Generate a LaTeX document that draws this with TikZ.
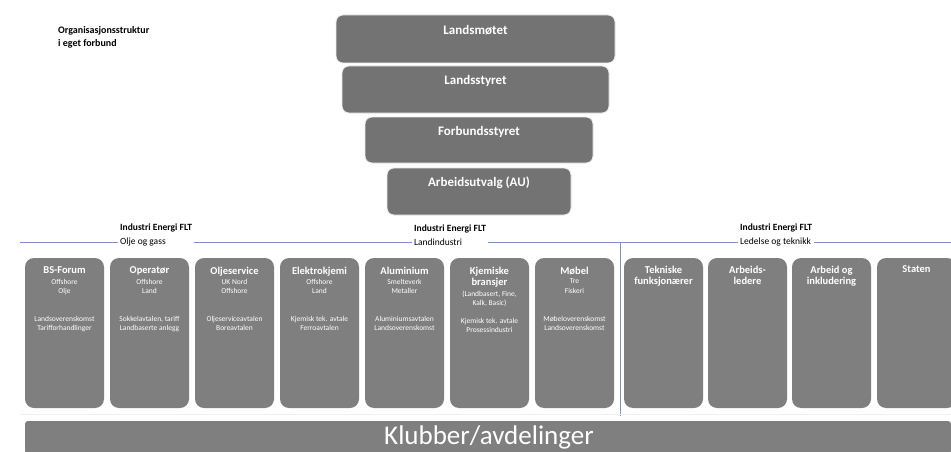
\documentclass[tikz,border=0pt]{standalone}
\usepackage{fontspec}
\setmainfont{Carlito}
\begin{document}
\begin{tikzpicture}[x=1pt,y=-1pt,
  topbox/.style={draw=white!85!gray, line width=0.8pt, fill=boxgrey, rounded corners=7pt, minimum height=48pt, inner sep=0pt},
  toptext/.style={text=white, font=\bfseries\fontsize{13}{15}\selectfont, anchor=center, inner sep=0pt},
  sbox/.style={fill=colgrey, rounded corners=9pt, minimum width=79pt, minimum height=150pt, inner sep=0pt},
  stitle/.style={text=white, font=\bfseries\fontsize{10.5}{11.5}\selectfont, anchor=north, align=center, inner sep=0pt},
  ssub/.style={text=white, font=\fontsize{7.5}{9.5}\selectfont, anchor=north, align=center, inner sep=0pt},
  seclabel/.style={fill=white, font=\fontsize{9.5}{14}\selectfont, align=left, inner sep=2pt, anchor=west},
  divider/.style={draw=divblue, line width=0.8pt}
]
\definecolor{boxgrey}{HTML}{737373}
\definecolor{colgrey}{HTML}{7F7F7F}
\definecolor{divblue}{HTML}{7F8FC8}
\useasboundingbox (0,0) rectangle (951,452);
\fill[white] (0,0) rectangle (951,452);

% title
\node[anchor=west, font=\bfseries\fontsize{10}{13}\selectfont, align=left, inner sep=0pt] (title) at (58,37.5) {Organisasjonsstruktur\\i eget forbund};

% top hierarchy
\node[topbox, minimum width=279pt] (lm) at (475.5,39) {};
\node[toptext] at ([yshift=-16pt]lm.north) {Landsmøtet};
\node[topbox, minimum width=267pt, minimum height=47pt] (ls) at (475.5,89.5) {};
\node[toptext] at ([yshift=-15pt]ls.north) {Landsstyret};
\node[topbox, minimum width=228pt, minimum height=46pt] (fs) at (479,140) {};
\node[toptext] at ([yshift=-15pt]fs.north) {Forbundsstyret};
\node[topbox, minimum width=184pt, minimum height=47pt] (au) at (479,191.5) {};
\node[toptext] at ([yshift=-15pt]au.north) {Arbeidsutvalg (AU)};

% dividers
\coordinate (dl) at (20,242);
\coordinate (dr) at (951,242);
\coordinate (vt) at (620,242);
\coordinate (vb) at (620,416);
\draw[divider] (dl) -- (dr);
\draw[divider] (vt) -- (vb);
\draw[white!88!gray, line width=1.5pt] (20,414.5) -- (951,414.5);

% section labels
\node[seclabel] (s1) at (118,235) {\textbf{Industri Energi FLT}\\Olje og gass};
\node[seclabel] (s2) at (412,235) {\textbf{Industri Energi FLT}\\Landindustri};
\node[seclabel] (s3) at (738,235) {\textbf{Industri Energi FLT}\\Ledelse og teknikk};

% column boxes
\node[sbox] (b1) at (64.5,333) {};
\node[sbox] (b2) at (149.5,333) {};
\node[sbox] (b3) at (234.5,333) {};
\node[sbox] (b4) at (319.5,333) {};
\node[sbox] (b5) at (404.5,333) {};
\node[sbox] (b6) at (489.5,333) {};
\node[sbox] (b7) at (574.5,333) {};
\node[sbox] (b8) at (663.5,333) {};
\node[sbox] (b9) at (747.5,333) {};
\node[sbox] (b10) at (831.5,333) {};
\node[sbox] (b11) at (916.5,333) {};

\node[stitle] at ([yshift=-9pt]b1.north) {BS-Forum};
\node[ssub] at ([yshift=-21pt]b1.north) {Offshore\\Olje};
\node[ssub] at ([yshift=-58pt]b1.north) {Landsoverenskomst\\Tarifforhandlinger};

\node[stitle] at ([yshift=-9pt]b2.north) {Operatør};
\node[ssub] at ([yshift=-21pt]b2.north) {Offshore\\Land};
\node[ssub] at ([yshift=-58pt]b2.north) {Sokkelavtalen, tariff\\Landbaserte anlegg};

\node[stitle] at ([yshift=-9pt]b3.north) {Oljeservice};
\node[ssub] at ([yshift=-21pt]b3.north) {UK Nord\\Offshore};
\node[ssub] at ([yshift=-58pt]b3.north) {Oljeserviceavtalen\\Boreavtalen};

\node[stitle] at ([yshift=-9pt]b4.north) {Elektrokjemi};
\node[ssub] at ([yshift=-21pt]b4.north) {Offshore\\Land};
\node[ssub] at ([yshift=-58pt]b4.north) {Kjemisk tek. avtale\\Ferroavtalen};

\node[stitle] at ([yshift=-9pt]b5.north) {Aluminium};
\node[ssub] at ([yshift=-21pt]b5.north) {Smelteverk\\Metaller};
\node[ssub] at ([yshift=-58pt]b5.north) {Aluminiumsavtalen\\Landsoverenskomst};

\node[stitle] at ([yshift=-9pt]b6.north) {Kjemiske\\bransjer};
\node[ssub] at ([yshift=-33pt]b6.north) {(Landbasert, Fine,\\Kalk, Basic)};
\node[ssub] at ([yshift=-60pt]b6.north) {Kjemisk tek. avtale\\Prosessindustri};

\node[stitle] at ([yshift=-9pt]b7.north) {Møbel};
\node[ssub] at ([yshift=-21pt]b7.north) {Tre\\Fiskeri};
\node[ssub] at ([yshift=-58pt]b7.north) {Møbeloverenskomst\\Landsoverenskomst};

\node[stitle] at ([yshift=-8pt]b8.north) {Tekniske\\funksjonærer};
\node[stitle] at ([yshift=-8pt]b9.north) {Arbeids-\\ledere};
\node[stitle] at ([yshift=-8pt]b10.north) {Arbeid og\\inkludering};
\node[stitle] at ([yshift=-8pt]b11.north) {Staten};

% bottom bar
\node[fill=colgrey, minimum width=926pt, minimum height=33pt, inner sep=0pt, rounded corners=3pt] (kl) at (488,437.5) {};
\node[text=white, font=\fontsize{27}{30}\selectfont, inner sep=0pt] at ([xshift=1pt,yshift=0pt]kl.center) {Klubber/avdelinger};
\end{tikzpicture}
\end{document}
